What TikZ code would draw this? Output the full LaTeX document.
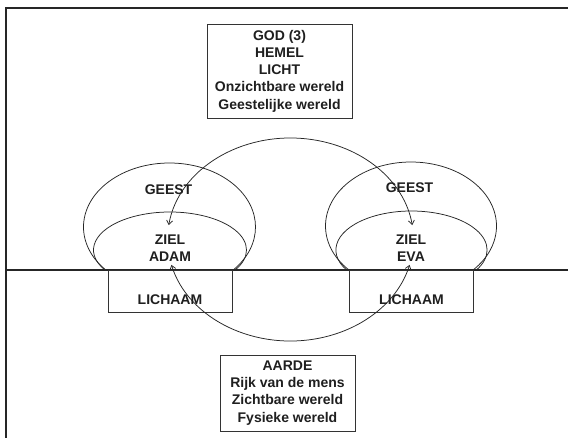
\documentclass[tikz,border=0pt]{standalone}
\usepackage{fontspec}
\setmainfont{Liberation Sans}
\usetikzlibrary{arrows.meta}
\tikzset{
  lbl/.style={font=\fontsize{14}{17.2}\selectfont\bfseries, text=black!88, align=center, inner sep=0pt},
  boxnode/.style={lbl, draw=black!80, line width=0.8pt},
  thin/.style={line width=0.75pt, draw=black!85},
  arr/.style={thin, {Straight Barb[length=4pt,width=6pt]}-{Straight Barb[length=4pt,width=6pt]}}
}
\begin{document}
\begin{tikzpicture}[x=1pt,y=-1pt]
\useasboundingbox (0,0) rectangle (568,438);
\fill[white] (0,0) rectangle (568,438);
% frame
\draw[line width=2pt, black!85] (5.5,438) -- (5.5,8) -- (568,8);
% ground line
\draw[line width=2.2pt, black!85] (5,270) -- (568,270);

% top and bottom boxes
\node[boxnode, minimum width=145pt, minimum height=94pt] (god) at (279.5,71) {GOD (3)\\HEMEL\\LICHT\\Onzichtbare wereld\\Geestelijke wereld};
\node[boxnode, minimum width=135pt, minimum height=76pt] (aarde) at (287.5,393) {AARDE\\Rijk van de mens\\Zichtbare wereld\\Fysieke wereld};

% left person
\coordinate (gA) at (169.5,227);
\coordinate (zA) at (170,250);
\draw[thin] (gA) ++(137.8:86 and 64) arc[start angle=137.8, end angle=402.2, x radius=86, y radius=64];
\draw[thin] (zA) ++(148.2:76.5 and 38) arc[start angle=148.2, end angle=391.8, x radius=76.5, y radius=38];
\node[boxnode, minimum width=124pt, minimum height=42pt] (lichA) at (170.2,291) {};
\node[lbl] (geestA) at (168.5,190) {GEEST};
\node[lbl] (zielA) at (170,248) {ZIEL\\ADAM};
\node[lbl] (lA) at (170,300) {LICHAAM};

% right person
\coordinate (gE) at (411,226);
\coordinate (zE) at (411.5,250);
\draw[thin] (gE) ++(136.6:85.5 and 64) arc[start angle=136.6, end angle=403.4, x radius=85.5, y radius=64];
\draw[thin] (zE) ++(149.1:75.6 and 39) arc[start angle=149.1, end angle=390.9, x radius=75.6, y radius=39];
\node[boxnode, minimum width=124pt, minimum height=42pt] (lichE) at (411.6,291) {};
\node[lbl] (geestE) at (409.5,188) {GEEST};
\node[lbl] (zielE) at (411,248) {ZIEL\\EVA};
\node[lbl] (lE) at (411.5,300) {LICHAAM};

% big ellipse connectors
\coordinate (big) at (290.5,239.5);
\draw[arr] (big) ++(188.2:123 and 101.5) arc[start angle=188.2, end angle=351.8, x radius=123, y radius=101.5];
\draw[arr] (big) ++(165.5:123 and 101.5) arc[start angle=165.5, end angle=14.5, x radius=123, y radius=101.5];
\end{tikzpicture}
\end{document}
